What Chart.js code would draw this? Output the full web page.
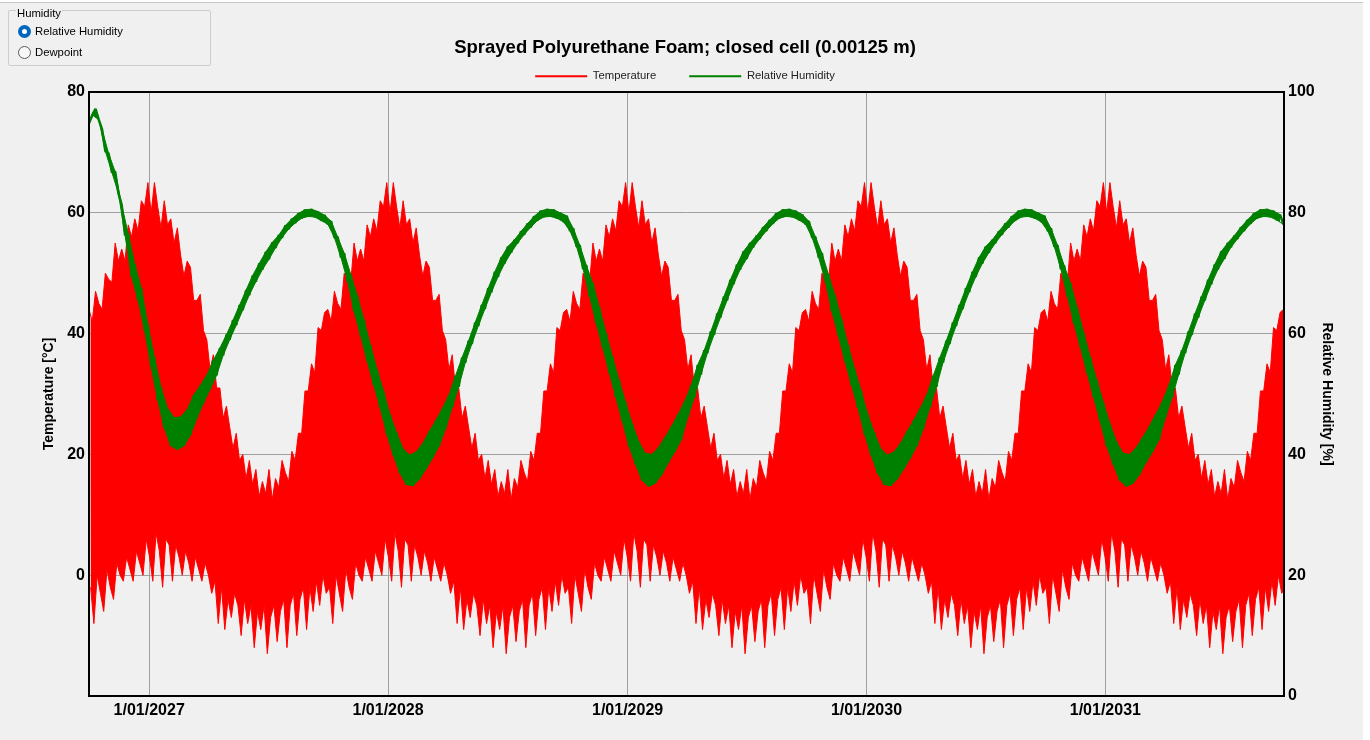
<!DOCTYPE html>
<html>
<head>
<meta charset="utf-8">
<title>Sprayed Polyurethane Foam; closed cell (0.00125 m)</title>
<script src="https://cdn.jsdelivr.net/npm/chart.js@4.4.1/dist/chart.umd.min.js"></script>
<style>
  html, body { margin:0; padding:0; width:1370px; height:740px; overflow:hidden; background:#ffffff; }
  #form { position:absolute; left:0; top:2px; width:1363px; height:738px; background:#f0f0f0; border-top:1px solid #c9c9c9; }
  #chartBox { position:absolute; left:0; top:0; width:1370px; height:740px; }
  #grp { position:absolute; left:8px; top:10px; width:201px; height:54px; border:1px solid #cdcdcd; border-radius:2px; }
  #grpLabel { position:absolute; left:16px; top:6px; padding:0 1px; background:#f0f0f0; font:11.3px "Liberation Sans", Arial, sans-serif; line-height:14px; color:#000; }
  .opt { position:absolute; left:35px; font:11.3px "Liberation Sans", Arial, sans-serif; line-height:14px; color:#000; white-space:nowrap; }
  .rb { position:absolute; width:13px; height:13px; border-radius:50%; box-sizing:border-box; }
  .rb.on { background:#0067c0; }
  .rb.on::after { content:""; position:absolute; left:4px; top:4px; width:5px; height:5px; border-radius:50%; background:#fff; }
  .rb.off { border:1px solid #5a5a5a; background:#f7f7f7; }
</style>
</head>
<body>
<div id="form"></div>
<div id="chartBox"><canvas id="c" width="1370" height="740"></canvas></div>
<div id="grp"></div>
<div id="grpLabel">Humidity</div>
<div class="rb on" style="left:18px;top:25px"></div>
<div class="opt" style="top:24px">Relative Humidity</div>
<div class="rb off" style="left:18px;top:46px"></div>
<div class="opt" style="top:45px">Dewpoint</div>
<script>
// ---------- data ----------
const chartTitle = 'Sprayed Polyurethane Foam; closed cell (0.00125 m)';
const seriesNames = ['Temperature', 'Relative Humidity'];
const seriesColors = ['#ff0000', '#008000'];
const tempAxisTitle = 'Temperature [°C]';
const rhAxisTitle = 'Relative Humidity [%]';

// x axis: days counted from 1 Oct 2026 to 1 Oct 2031
const dayRange = [0, 1826];
const yearTickDays = [92, 457, 823, 1188, 1553];
const yearTickLabels = ['1/01/2027', '1/01/2028', '1/01/2029', '1/01/2030', '1/01/2031'];
const tempRange = [-20, 80];
const rhRange = [0, 100];

// temperature: highs and lows sampled every 5 days (weather year repeats)
const tempStepDays = 5;
const tempHigh = [
44,42,47,45,44,50,49,48.5,55,52,54,52,58,56,59,57,62,61,65,60,65,61,57.5,62,58,59,55,57.5,53,49.5,52,51,45.5,45.5,46.5,40.5,39,34,36.5,31,31,26,28,24.5,21,23.5,19,20,16,19,15,17.5,13,15.5,13.5,17.5,12.5,16,14.5,19,17,15.5,20.5,19,23.5,23.5,30.5,30.5,35,33.5,41,40.5,43.5,
44,42,47,45,44,50,49,48.5,55,52,54,52,58,56,59,57,62,61,65,60,65,61,57.5,62,58,59,55,57.5,53,49.5,52,51,45.5,45.5,46.5,40.5,39,34,36.5,31,31,26,28,24.5,21,23.5,19,20,16,19,15,17.5,13,15.5,13.5,17.5,12.5,16,14.5,19,17,15.5,20.5,19,23.5,23.5,30.5,30.5,35,33.5,41,40.5,43.5,
44,42,47,45,44,50,49,48.5,55,52,54,52,58,56,59,57,62,61,65,60,65,61,57.5,62,58,59,55,57.5,53,49.5,52,51,45.5,45.5,46.5,40.5,39,34,36.5,31,31,26,28,24.5,21,23.5,19,20,16,19,15,17.5,13,15.5,13.5,17.5,12.5,16,14.5,19,17,15.5,20.5,19,23.5,23.5,30.5,30.5,35,33.5,41,40.5,43.5,
44,42,47,45,44,50,49,48.5,55,52,54,52,58,56,59,57,62,61,65,60,65,61,57.5,62,58,59,55,57.5,53,49.5,52,51,45.5,45.5,46.5,40.5,39,34,36.5,31,31,26,28,24.5,21,23.5,19,20,16,19,15,17.5,13,15.5,13.5,17.5,12.5,16,14.5,19,17,15.5,20.5,19,23.5,23.5,30.5,30.5,35,33.5,41,40.5,43.5,
44,42,47,45,44,50,49,48.5,55,52,54,52,58,56,59,57,62,61,65,60,65,61,57.5,62,58,59,55,57.5,53,49.5,52,51,45.5,45.5,46.5,40.5,39,34,36.5,31,31,26,28,24.5,21,23.5,19,20,16,19,15,17.5,13,15.5,13.5,17.5,12.5,16,14.5,19,17,15.5,20.5,19,23.5,23.5,30.5,30.5,35,33.5,41,40.5,43.5,
44];
const tempLow = [
-2,-8,0,-3,-6,1,-2,-4,2,0,-1,3,1,-1,4,2,0,6,3,-1,7,4,-2,6,5,-1,5,3,0,4,2,-1,3,1,-1,2,0,-3,-1,-8,-2,-9,-4,-7,-3,-5,-10,-4,-8,-5,-12,-6,-9,-5,-13,-7,-5,-11,-6,-4,-12,-5,-3,-10,-4,-2,-9,-2,-6,-1,-5,0,-3,
-2,-8,0,-3,-6,1,-2,-4,2,0,-1,3,1,-1,4,2,0,6,3,-1,7,4,-2,6,5,-1,5,3,0,4,2,-1,3,1,-1,2,0,-3,-1,-8,-2,-9,-4,-7,-3,-5,-10,-4,-8,-5,-12,-6,-9,-5,-13,-7,-5,-11,-6,-4,-12,-5,-3,-10,-4,-2,-9,-2,-6,-1,-5,0,-3,
-2,-8,0,-3,-6,1,-2,-4,2,0,-1,3,1,-1,4,2,0,6,3,-1,7,4,-2,6,5,-1,5,3,0,4,2,-1,3,1,-1,2,0,-3,-1,-8,-2,-9,-4,-7,-3,-5,-10,-4,-8,-5,-12,-6,-9,-5,-13,-7,-5,-11,-6,-4,-12,-5,-3,-10,-4,-2,-9,-2,-6,-1,-5,0,-3,
-2,-8,0,-3,-6,1,-2,-4,2,0,-1,3,1,-1,4,2,0,6,3,-1,7,4,-2,6,5,-1,5,3,0,4,2,-1,3,1,-1,2,0,-3,-1,-8,-2,-9,-4,-7,-3,-5,-10,-4,-8,-5,-12,-6,-9,-5,-13,-7,-5,-11,-6,-4,-12,-5,-3,-10,-4,-2,-9,-2,-6,-1,-5,0,-3,
-2,-8,0,-3,-6,1,-2,-4,2,0,-1,3,1,-1,4,2,0,6,3,-1,7,4,-2,6,5,-1,5,3,0,4,2,-1,3,1,-1,2,0,-3,-1,-8,-2,-9,-4,-7,-3,-5,-10,-4,-8,-5,-12,-6,-9,-5,-13,-7,-5,-11,-6,-4,-12,-5,-3,-10,-4,-2,-9,-2,-6,-1,-5,0,-3,
-2];

// relative humidity: band top and bottom sampled every 10 days
const rhStepDays = 10;
const rhHigh = [
94.8,97.2,93.8,89.8,86.8,81.3,76.5,71.5,67.5,61.5,56,51.1,47.6,46.1,46.2,47.4,49.8,51.4,53.1,55.6,57.6,59.8,62.2,64.7,67.2,69.6,71.6,73.5,75.1,76.3,77.9,79,79.9,80.5,80.6,80.2,79.6,
78.6,76,73.3,69.8,66.3,62.3,58.1,54.1,50.5,46.6,43.6,40.9,39.9,40.4,41.8,43.8,45.6,47.6,49.8,53,56,58.8,61.8,64.7,67.5,70.2,72.6,74.4,75.5,76.9,78.2,79.4,80.3,80.6,80.5,80,
79.5,77.4,74.6,71.3,68.3,64.3,60.1,56.1,52.3,48.6,45.1,42.1,40.2,40,41.1,42.8,44.6,46.6,48.7,51.4,54.8,57.2,60.3,63.3,66.1,68.9,71.4,73.6,75,76.2,77.6,78.8,79.9,80.5,80.6,80.3,79.7,
78.6,76,73.3,69.8,66.3,62.3,58.1,54.1,50.5,46.6,43.6,40.9,39.9,40.4,41.8,43.8,45.6,47.6,49.8,53,56,58.8,61.8,64.7,67.5,70.2,72.6,74.4,75.5,76.9,78.2,79.4,80.3,80.6,80.5,80,
79.5,77.4,74.6,71.3,68.3,64.3,60.1,56.1,52.3,48.6,45.1,42.1,40.2,40,41.1,42.8,44.6,46.6,48.7,51.4,54.8,57.2,60.3,63.3,66.1,68.9,71.4,73.6,75,76.2,77.6,78.8,79.9,80.5,80.6,80.3,79.7];
const rhLow = [
96.2,95.4,90.2,86.7,83.2,76.3,69.5,65.5,60.5,54.5,49,44.4,41.4,40.8,41.4,43.2,46,48.5,50.8,53.1,56.4,59,61.4,63.9,66.4,68.6,70.6,72.3,74.2,75.9,77.3,78.3,79.1,79.4,79.3,78.7,78.1,
75.9,72.6,68.7,63.7,59.7,55.5,51.5,47.7,43.4,39.9,36.9,35,34.8,35.9,37.6,39.4,41.4,44.3,47.8,51.2,55.2,58.3,61.3,64.1,66.9,69.4,71.6,73.4,75,76.4,77.6,78.7,79.3,79.4,79.1,78.5,
77,74.4,70.7,66.2,61.7,57.7,53.5,49.5,45.5,41.4,38.4,35.7,34.7,35.2,36.6,38.6,40.4,42.4,46.2,49.4,53.2,56.8,59.8,62.7,65.5,68.2,70.6,72.4,74.3,75.7,77,78.2,79.1,79.4,79.3,78.8,78.1,
75.9,72.6,68.7,63.7,59.7,55.5,51.5,47.7,43.4,39.9,36.9,35,34.8,35.9,37.6,39.4,41.4,44.3,47.8,51.2,55.2,58.3,61.3,64.1,66.9,69.4,71.6,73.4,75,76.4,77.6,78.7,79.3,79.4,79.1,78.5,
77,74.4,70.7,66.2,61.7,57.7,53.5,49.5,45.5,41.4,38.4,35.7,34.7,35.2,36.6,38.6,40.4,42.4,46.2,49.4,53.2,56.8,59.8,62.7,65.5,68.2,70.6,72.4,74.3,75.7,77,78.2,79.1,79.4,79.3,78.8,78.1];

// ---------- build library tables ----------
const tempHighPts = tempHigh.map((v, i) => ({ x: i * tempStepDays, y: v }));
const tempLowPts = tempLow.map((v, i) => ({ x: i * tempStepDays + tempStepDays / 2, y: v }));
const rhHighPts = rhHigh.map((v, i) => ({ x: i * rhStepDays, y: v }));
const rhLowPts = rhLow.map((v, i) => ({ x: i * rhStepDays + rhStepDays / 2, y: v }));
const rhZigPts = [];
rhHigh.forEach((v, i) => { rhZigPts.push(rhHighPts[i]); rhZigPts.push(rhLowPts[i]); });

Chart.defaults.font.family = '"Liberation Sans", Arial, sans-serif';

const framePlugin = {
  id: 'frame',
  afterDatasetsDraw(chart) {
    const { ctx, chartArea: a } = chart;
    ctx.save();
    ctx.strokeStyle = '#000';
    ctx.lineWidth = 2;
    ctx.strokeRect(a.left, a.top, a.right - a.left, a.bottom - a.top);
    ctx.restore();
  }
};

const common = { pointRadius: 0, tension: 0, borderJoinStyle: 'bevel' };

new Chart(document.getElementById('c'), {
  type: 'line',
  data: {
    datasets: [
      Object.assign({ label: seriesNames[0], data: tempHighPts, yAxisID: 'yT', borderColor: seriesColors[0],
        backgroundColor: seriesColors[0], borderWidth: 1, fill: '+1', order: 4 }, common),
      Object.assign({ label: seriesNames[0] + ' low', data: tempLowPts, yAxisID: 'yT', borderColor: seriesColors[0],
        backgroundColor: seriesColors[0], borderWidth: 1, fill: false, order: 3 }, common),
      Object.assign({ label: seriesNames[1] + ' band', data: rhHighPts, yAxisID: 'yRH', borderColor: seriesColors[1],
        backgroundColor: seriesColors[1], borderWidth: 1, fill: '+1', order: 2 }, common),
      Object.assign({ label: seriesNames[1] + ' low', data: rhLowPts, yAxisID: 'yRH', borderColor: seriesColors[1],
        backgroundColor: seriesColors[1], borderWidth: 1, fill: false, order: 1 }, common),
      Object.assign({ label: seriesNames[1], data: rhZigPts, yAxisID: 'yRH', borderColor: seriesColors[1],
        backgroundColor: seriesColors[1], borderWidth: 2.5, fill: false, order: 0 }, common)
    ]
  },
  options: {
    responsive: false,
    animation: false,
    devicePixelRatio: 1,
    events: [],
    layout: { padding: 0 },
    plugins: {
      title: { display: true, text: chartTitle, color: '#000',
        font: { size: 18.5, weight: 'bold' }, padding: { top: 37, bottom: -21.5 } },
      legend: { display: true, position: 'top',
        labels: { boxWidth: 52, boxHeight: 2, padding: 33, color: '#222', font: { size: 11.3 },
          generateLabels: () => seriesNames.map((t, i) => ({ text: t, fillStyle: seriesColors[i], strokeStyle: seriesColors[i],
            lineWidth: 0, hidden: false, datasetIndex: i, fontColor: '#222' })) } },
      tooltip: { enabled: false },
      filler: { propagate: false }
    },
    scales: {
      x: {
        type: 'linear', min: dayRange[0], max: dayRange[1],
        afterBuildTicks: s => { s.ticks = yearTickDays.map(v => ({ value: v })); },
        afterFit: s => { s.height = 44; },
        ticks: { autoSkip: false, maxRotation: 0, padding: 5, color: '#000',
          font: { size: 16, weight: 'bold' },
          callback: (v, i) => yearTickLabels[i] },
        grid: { color: '#a0a0a0', lineWidth: 1, drawTicks: false },
        border: { display: false }
      },
      yT: {
        position: 'left', min: tempRange[0], max: tempRange[1],
        afterFit: s => { s.width = 89; },
        ticks: { stepSize: 20, padding: 4, color: '#000', font: { size: 16, weight: 'bold' },
          callback: v => (v === tempRange[0] ? '' : String(v)) },
        grid: { drawTicks: false, lineWidth: 1,
          color: c => (c.tick && (c.tick.value === tempRange[0] || c.tick.value === tempRange[1])) ? 'rgba(0,0,0,0)' : '#a0a0a0' },
        border: { display: false },
        title: { display: true, text: tempAxisTitle, color: '#000', font: { size: 14, weight: 'bold' }, padding: { top: 41, bottom: 0 } }
      },
      yRH: {
        position: 'right', min: rhRange[0], max: rhRange[1],
        afterFit: s => { s.width = 86; },
        ticks: { stepSize: 20, padding: 4, color: '#000', font: { size: 16, weight: 'bold' } },
        grid: { display: false, drawTicks: false },
        border: { display: false },
        title: { display: true, text: rhAxisTitle, color: '#000', font: { size: 14, weight: 'bold' }, padding: { top: 35, bottom: 0 } }
      }
    }
  },
  plugins: [framePlugin]
});
</script>
</body>
</html>
